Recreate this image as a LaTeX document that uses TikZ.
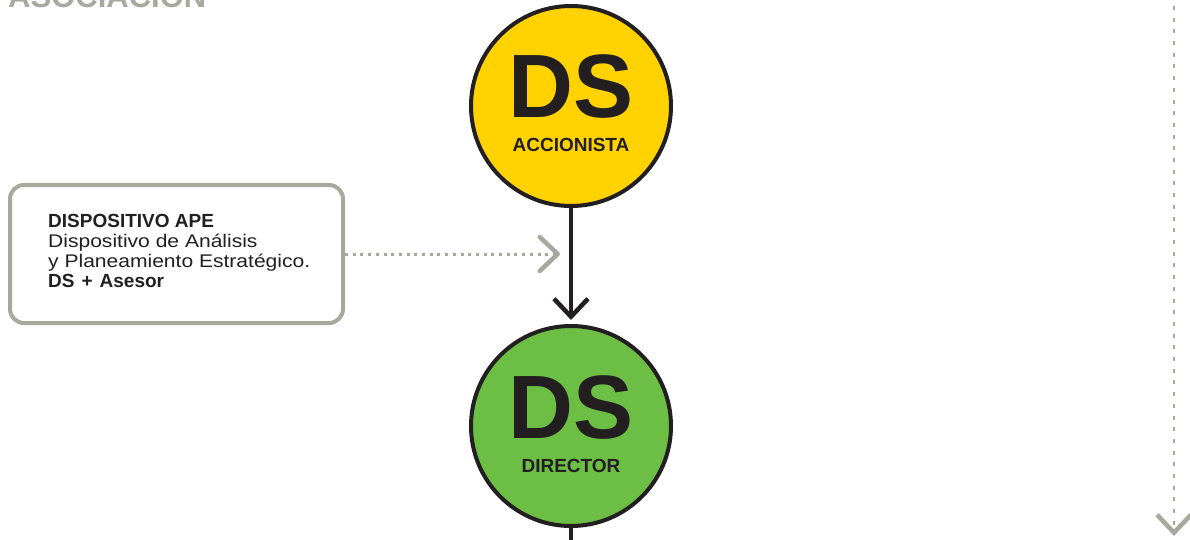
\documentclass[tikz,border=0pt]{standalone}
\usepackage{fontspec}
\setmainfont{Liberation Sans}
\newfontfamily\widefont[FakeStretch=1.15]{Liberation Sans}
\usetikzlibrary{arrows.meta}
\definecolor{inkdark}{HTML}{231F20}
\definecolor{sand}{HTML}{A8A99C}
\definecolor{shareyellow}{HTML}{FFD200}
\definecolor{dirgreen}{HTML}{6CBE45}

\begin{document}
\begin{tikzpicture}[x=1pt,y=-1pt,
  role/.style={circle, draw=inkdark, line width=4pt, minimum size=200pt, inner sep=0pt},
  bigds/.style={font=\bfseries\fontsize{90}{90}\selectfont, text=inkdark, anchor=base, inner sep=0pt},
  rolename/.style={font=\bfseries\fontsize{19}{19}\selectfont, text=inkdark, anchor=base, inner sep=0pt},
  infobox/.style={draw=sand, line width=4pt, rounded corners=14pt, minimum width=333pt, minimum height=138pt, inner sep=0pt, fill=white},
  boxbold/.style={font=\bfseries\fontsize{19}{20}\selectfont, text=inkdark, anchor=base west, inner sep=0pt},
  boxtext/.style={font=\widefont\fontsize{18.3}{20}\selectfont, text=inkdark, anchor=base west, inner sep=0pt},
  heading/.style={font=\bfseries\fontsize{31}{31}\selectfont, text=sand, anchor=base west, inner sep=0pt},
  flow/.style={draw=inkdark, line width=4pt, -{Straight Barb[length=18pt, width=34pt, line width=4.5pt]}},
  hint/.style={draw=sand, line width=3pt, dash pattern=on 3pt off 4.7pt, -{Straight Barb[length=18pt, width=34pt, line width=4.5pt, round]}},
  track/.style={draw=sand, line width=2.3pt, dash pattern=on 4pt off 7.7pt, dash phase=-6pt, -{Straight Barb[length=18pt, width=34pt, line width=4.5pt]}},
]
\useasboundingbox (0,0) rectangle (1190,540);

% section heading, cut by the top edge
\node[heading] (title) at (8,8) {ASOCIACION};

% shareholder and director roles
\node[role, fill=shareyellow] (acc) at (571,106) {};
\node[bigds] (accds) at ([yshift=-12pt]acc.center) {DS};
\node[rolename] (accname) at ([yshift=-46pt]acc.center) {ACCIONISTA};

\node[role, fill=dirgreen] (dir) at (571,426) {};
\node[bigds] (dirds) at ([yshift=-12pt]dir.center) {DS};
\node[rolename] (dirname) at ([yshift=-46pt]dir.center) {DIRECTOR};

% strategic analysis device
\node[infobox] (ape) at (176.5,254) {};
\node[boxbold] (apel1) at (48,227) {DISPOSITIVO APE};
\node[boxtext] (apel2) at (48,247) {Dispositivo de Análisis};
\node[boxtext] (apel3) at (48,267) {y Planeamiento Estratégico.};
\node[boxbold] (apel4) at (48,287) {DS\hspace{7pt}+\hspace{7pt}Asesor};

% connectors
\coordinate (apetip) at (560,254);
\coordinate (dirout) at (571,545);
\coordinate (tracktop) at (1174,0);
\coordinate (trackend) at (1174,536);

\draw[flow, shorten >=4pt] (acc.south) -- (dir.north);
\draw[draw=inkdark, line width=4pt] (dir.south) -- (dirout);
\draw[hint] (ape.east) -- (apetip);
\draw[track] (tracktop) -- (trackend);
\end{tikzpicture}
\end{document}
